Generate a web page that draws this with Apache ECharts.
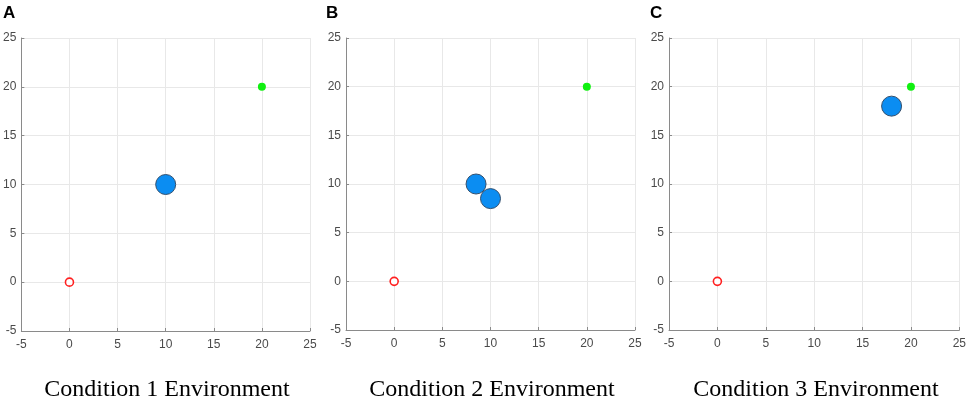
<!DOCTYPE html>
<html>
<head>
<meta charset="utf-8">
<script src="https://cdn.jsdelivr.net/npm/echarts@6/dist/echarts.min.js"></script>
<style>
html,body{margin:0;padding:0;background:#fff;}
#c{width:969px;height:401px;}
</style>
</head>
<body>
<div id="c"></div>
<script>
// ---- data ----
const panelLetters = ['A', 'B', 'C'];
const panelTitles = ['Condition 1 Environment', 'Condition 2 Environment', 'Condition 3 Environment'];
const axisMin = -5;
const axisMax = 25;
const axisStep = 5;
const startPoints = [[0, 0]];
const goalPoints = [[20, 20]];
const obstaclesA = [[10, 10]];
const obstaclesB = [[8.5, 10], [10, 8.5]];
const obstaclesC = [[18, 18]];
const obstacleSets = [obstaclesA, obstaclesB, obstaclesC];

// ---- layout ----
const grids = [
  {left: 21, top: 38, width: 289, height: 293},
  {left: 346, top: 38, width: 289, height: 292},
  {left: 669, top: 38, width: 292, height: 292}
];
const titleCenters = [167, 492, 816];
const letterLefts = [3, 326, 650];

const chart = echarts.init(document.getElementById('c'));

const axisCommon = {
  type: 'value',
  min: axisMin,
  max: axisMax,
  interval: axisStep,
  axisLine: {show: true, onZero: false, lineStyle: {color: '#8a8a8a', width: 1}},
  axisTick: {show: true, inside: true, length: 3, lineStyle: {color: '#8a8a8a'}},
  axisLabel: {color: '#4a4a4a', fontSize: 12, fontFamily: 'Liberation Sans, Arial, sans-serif'},
  splitLine: {show: true, lineStyle: {color: '#e8e8e8', width: 1}}
};

const xAxes = [], yAxes = [], series = [], titles = [];
for (let i = 0; i < 3; i++) {
  xAxes.push(Object.assign({gridIndex: i}, axisCommon, {axisLabel: Object.assign({}, axisCommon.axisLabel, {margin: 8})}));
  yAxes.push(Object.assign({gridIndex: i}, axisCommon, {axisLabel: Object.assign({}, axisCommon.axisLabel, {margin: 5})}));
  series.push({
    type: 'scatter', xAxisIndex: i, yAxisIndex: i,
    data: obstacleSets[i], symbol: 'circle', symbolSize: 20,
    itemStyle: {color: '#0b8df2', borderColor: '#34506e', borderWidth: 1, opacity: 1},
    z: 3
  });
  series.push({
    type: 'scatter', xAxisIndex: i, yAxisIndex: i,
    data: startPoints, symbol: 'circle', symbolSize: 8,
    itemStyle: {color: '#ffffff', borderColor: '#ff2020', borderWidth: 1.6, opacity: 1},
    z: 4
  });
  series.push({
    type: 'scatter', xAxisIndex: i, yAxisIndex: i,
    data: goalPoints, symbol: 'circle', symbolSize: 8,
    itemStyle: {color: '#10f010', opacity: 1},
    z: 4
  });
  titles.push({
    text: panelTitles[i], left: titleCenters[i], top: 378, textAlign: 'center', padding: 0,
    textStyle: {fontFamily: 'Liberation Serif, Times New Roman, serif', fontSize: 24, fontWeight: 'normal', color: '#000'}
  });
  titles.push({
    text: panelLetters[i], left: letterLefts[i], top: 5, padding: 0,
    textStyle: {fontFamily: 'Liberation Sans, Arial, sans-serif', fontSize: 17, fontWeight: 'bold', color: '#000'}
  });
}

chart.setOption({
  animation: false,
  backgroundColor: '#fff',
  title: titles,
  grid: grids,
  xAxis: xAxes,
  yAxis: yAxes,
  series: series
});
</script>
</body>
</html>
